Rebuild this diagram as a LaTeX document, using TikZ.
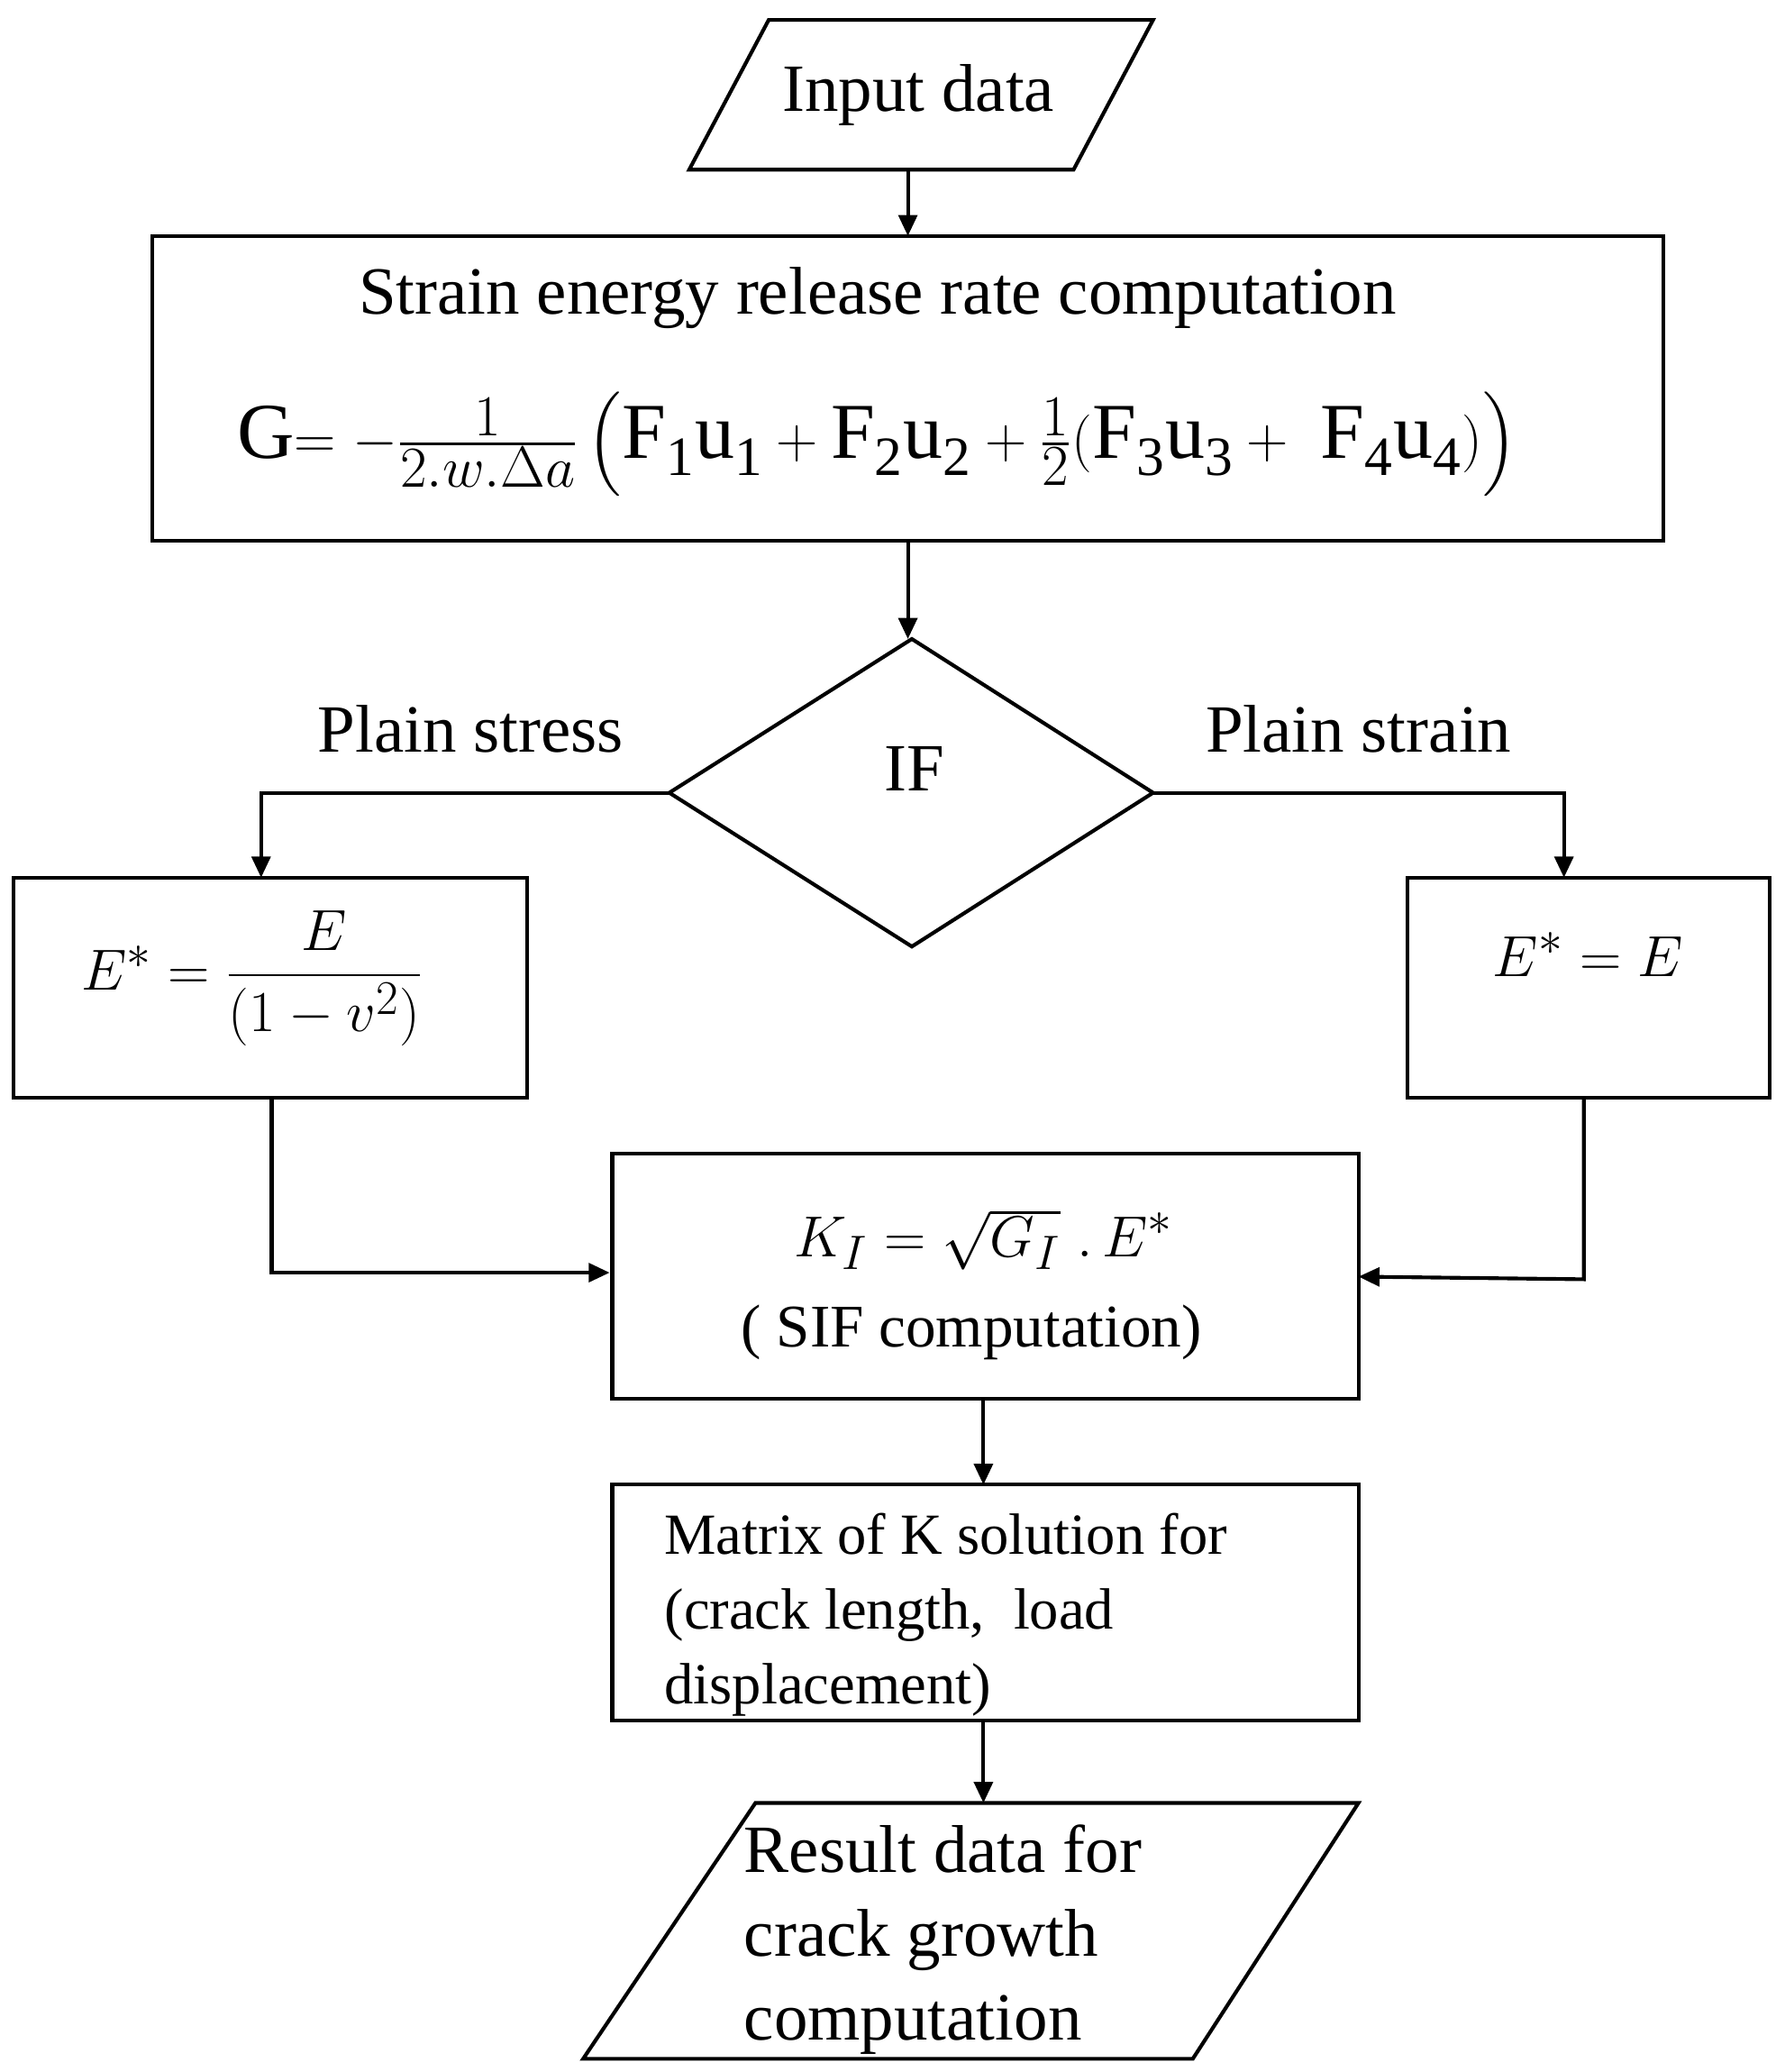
\documentclass[tikz,border=0pt]{standalone}
\usepackage{amsmath}
\usepackage{fontspec}
\setmainfont{Liberation Serif}
\usetikzlibrary{arrows.meta,shapes.geometric}
\begin{document}
\begin{tikzpicture}[x=0.02cm,y=-0.02cm,
  line width=1.6pt,
  arr/.style={-{Triangle[length=9pt,width=8pt]}},
  txt/.style={font=\fontsize{29}{34}\selectfont},
  mth/.style={font=\fontsize{30}{34}\selectfont}]
\useasboundingbox (0,0) rectangle (1340,1563);
% Input data
\draw (580,15) -- (870,15) -- (810,128) -- (520,128) -- cycle;
\node[txt] (in) at (693,72) {Input data};
\coordinate (inb) at (685,128);
% big box
\draw (115,178) rectangle (1255,408);
\coordinate (bt) at (685,178);
\coordinate (bb) at (685,408);
\node[txt,inner sep=1pt] (t1) at (662,225) {Strain energy release rate computation};
\node[font=\fontsize{34}{38}\selectfont,inner sep=1pt] (f1) at (662,335) {G$=-\frac{1}{2.w.\Delta a}\left(\mathrm{F_1u_1}+\mathrm{F_2u_2}+\frac{1}{2}(\mathrm{F_3u_3}+\ \mathrm{F_4u_4})\right)$};
\draw[arr] (inb) -- (bt);
% diamond
\draw (688,482) -- (870,598) -- (688,714) -- (505,598) -- cycle;
\coordinate (dt) at (685,482);
\coordinate (dl) at (505,598);
\coordinate (dr) at (870,598);
\node[txt] (if) at (690,580) {IF};
\draw[arr] (bb) -- (dt);
\node[txt] (ps) at (355,550) {Plain stress};
\node[txt] (pn) at (1025,550) {Plain strain};
% side boxes
\draw (10,662) rectangle (398,828);
\draw (1062,662) rectangle (1335,828);
\node[mth] (le) at (190,738) {$E^*=\dfrac{E}{(1-v^2)}$};
\node[mth] (re) at (1198,720) {$E^*=E$};
\coordinate (lt) at (197,662);
\coordinate (rt) at (1180,662);
\draw[arr] (dl) -- (197,598) -- (lt);
\draw[arr] (dr) -- (1180,598) -- (rt);
% SIF box
\draw (462,870) rectangle (1025,1055);
\node[mth] (k) at (742,935) {$K_I=\sqrt{G_I}\;.\,E^*$};
\node[font=\fontsize{26}{30}\selectfont] (sif) at (733,1005) {( SIF computation)};
\coordinate (sl) at (460,960);
\coordinate (sr) at (1025,963);
\draw[arr] (205,828) -- (205,960) -- (sl);
\draw[arr] (1195,828) -- (1195,965) -- (sr);
% matrix box
\draw (462,1120) rectangle (1025,1298);
\node[align=left,font=\fontsize{25}{32}\selectfont,inner sep=0pt,anchor=west] (m) at (500,1218) {Matrix of K solution for\\(crack length,\ \ load\\displacement)};
\draw[arr] (742,1055) -- (742,1120);
% result
\draw (570,1360) -- (1025,1360) -- (900,1553) -- (440,1553) -- cycle;
\node[align=left,font=\fontsize{29}{36}\selectfont,inner sep=0pt,anchor=west] (r) at (560,1463) {Result data for\\crack growth\\computation};
\draw[arr] (742,1298) -- (742,1360);
\end{tikzpicture}
\end{document}
